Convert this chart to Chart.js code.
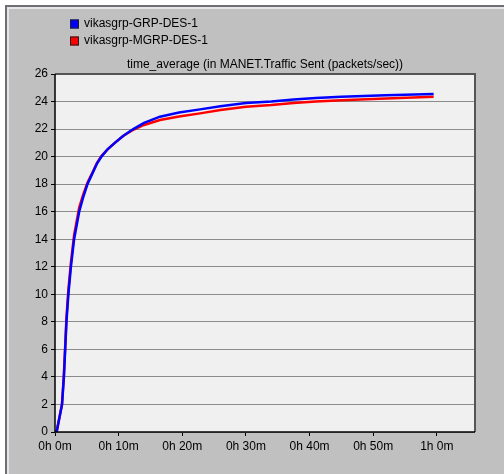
<!DOCTYPE html>
<html>
<head>
<meta charset="utf-8">
<script src="https://cdn.jsdelivr.net/npm/chart.js@4/dist/chart.umd.min.js"></script>
<style>
  html, body { margin: 0; padding: 0; background: #ffffff; }
  body { width: 504px; height: 474px; position: relative; overflow: hidden; }
  #panel {
    position: absolute; left: 5px; top: 5px; width: 497px; height: 467px;
    background: #c0c0c0;
    border-left: 2px solid #6e6e74; border-top: 2px solid #6e6e74;
    box-shadow: inset 2px 2px 0 #e6e6e6;
  }
  #chart { position: absolute; left: 0; top: 0; }
</style>
</head>
<body>
<div id="panel"></div>
<canvas id="chart" width="504" height="474"></canvas>
<script>
// time in minutes
const timeMin = [0.25, 1.1, 1.4, 1.6, 1.8, 2.1, 2.5, 3.0, 3.8, 4.4, 5.1, 6.1, 6.6, 7.3, 8.3, 9.4, 10.7, 12.3, 14.0, 16.5, 19.5, 22.8, 26, 30, 34, 37.5, 41, 45, 52, 59.5];
const grpValues = [0, 2, 4, 6, 8, 10, 12, 14, 16, 17, 18, 19, 19.5, 20, 20.55, 21, 21.5, 22, 22.45, 22.9, 23.2, 23.43, 23.65, 23.9, 24.0, 24.15, 24.25, 24.35, 24.45, 24.55];
const mgrpValues = [0, 2, 4.2, 6.2, 8.3, 10.3, 12.3, 14.3, 16.3, 17.2, 18.1, 19.05, 19.55, 20.05, 20.55, 21.0, 21.5, 21.95, 22.3, 22.66, 22.92, 23.14, 23.38, 23.62, 23.75, 23.9, 24.0, 24.1, 24.22, 24.35];
const seriesLabels = ['vikasgrp-GRP-DES-1', 'vikasgrp-MGRP-DES-1'];
const seriesColors = ['#0000ff', '#ff0000'];
const chartTitle = 'time_average (in MANET.Traffic Sent (packets/sec))';

const FONT = '"Liberation Sans", Arial, sans-serif';

function toPoints(values) {
  return values.map((v, i) => ({ x: timeMin[i], y: v }));
}

function minuteLabel(value) {
  const h = Math.floor(value / 60);
  const m = Math.round(value - h * 60);
  return h + 'h ' + m + 'm';
}

// plot background, frame, title and legend
const decorations = {
  id: 'decorations',
  beforeDraw(chart) {
    const { ctx, chartArea: a } = chart;
    ctx.save();
    ctx.fillStyle = '#f0f0f0';
    ctx.fillRect(a.left, a.top, a.right - a.left, a.bottom - a.top);
    ctx.restore();
  },
  afterDraw(chart) {
    const { ctx, chartArea: a } = chart;
    ctx.save();
    // frame
    ctx.strokeStyle = '#555555';
    ctx.lineWidth = 2;
    ctx.beginPath();
    ctx.moveTo(a.left, a.top);
    ctx.lineTo(a.right, a.top);
    ctx.lineTo(a.right, a.bottom);
    ctx.stroke();
    ctx.strokeStyle = '#000000';
    ctx.lineWidth = 1.5;
    ctx.beginPath();
    ctx.moveTo(a.left, a.top);
    ctx.lineTo(a.left, a.bottom);
    ctx.lineTo(a.right, a.bottom);
    ctx.stroke();

    // title
    ctx.fillStyle = '#000000';
    ctx.font = '12px ' + FONT;
    ctx.textAlign = 'center';
    ctx.textBaseline = 'middle';
    ctx.fillText(chartTitle, (a.left + a.right) / 2, 65);

    // legend
    ctx.textAlign = 'left';
    seriesLabels.forEach((label, i) => {
      const y = 24 + i * 17;
      ctx.fillStyle = seriesColors[i];
      ctx.fillRect(70, y - 4.5, 9, 9);
      ctx.strokeStyle = '#202020';
      ctx.lineWidth = 1;
      ctx.strokeRect(70.5, y - 4, 8, 8);
      ctx.fillStyle = '#000000';
      ctx.fillText(label, 84, y);
    });
    ctx.restore();
  }
};

new Chart(document.getElementById('chart'), {
  type: 'line',
  data: {
    datasets: [
      {
        label: seriesLabels[0],
        data: toPoints(grpValues),
        borderColor: seriesColors[0],
        borderWidth: 2.5,
        pointRadius: 0,
        tension: 0,
        fill: false
      },
      {
        label: seriesLabels[1],
        data: toPoints(mgrpValues),
        borderColor: seriesColors[1],
        borderWidth: 2.5,
        pointRadius: 0,
        tension: 0,
        fill: false
      }
    ]
  },
  options: {
    responsive: false,
    animation: false,
    layout: { padding: { left: 0, top: 74, right: 29, bottom: 0 } },
    plugins: {
      legend: { display: false },
      title: { display: false },
      tooltip: { enabled: false }
    },
    scales: {
      x: {
        type: 'linear',
        min: 0,
        max: 66,
        afterFit(scale) { scale.height = 42; },
        ticks: {
          stepSize: 10,
          includeBounds: false,
          maxRotation: 0,
          autoSkip: false,
          padding: 3,
          color: '#000000',
          font: { family: FONT, size: 12 },
          callback: (value) => minuteLabel(value)
        },
        grid: {
          drawOnChartArea: false,
          drawTicks: true,
          tickLength: 4,
          tickColor: '#000000'
        },
        border: { display: false }
      },
      y: {
        min: 0,
        max: 26,
        afterFit(scale) { scale.width = 55; },
        ticks: {
          stepSize: 2,
          padding: 3,
          color: '#000000',
          font: { family: FONT, size: 12 }
        },
        grid: {
          color: '#8c8c8c',
          lineWidth: 1,
          tickLength: 4,
          tickColor: '#000000'
        },
        border: { display: false }
      }
    }
  },
  plugins: [decorations]
});
</script>
</body>
</html>
